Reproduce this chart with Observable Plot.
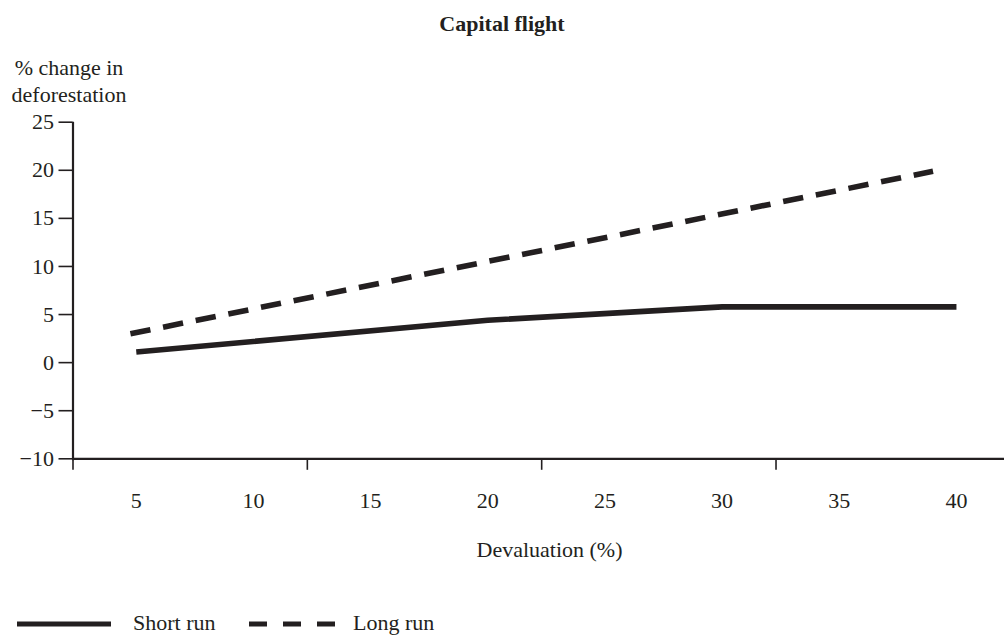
<!DOCTYPE html>
<html><head><meta charset="utf-8">
<script src="https://cdn.jsdelivr.net/npm/d3@7"></script>
<script src="https://cdn.jsdelivr.net/npm/@observablehq/plot@0.6"></script>
<style>
html,body{margin:0;padding:0;background:#fff;overflow:hidden;}
body{width:1004px;height:636px;font-family:"Liberation Serif","Times New Roman",serif;color:#231f20;}
#title{height:44px;line-height:44px;text-align:center;font-weight:bold;font-size:22px;padding-top:2px;box-sizing:border-box;overflow:visible;}
svg{display:block;}
</style></head><body>
<div id="title">Capital flight</div>
<div id="chart"></div>
<div id="legend"></div>
<script>
// ---- data ----
const xLabels = [5, 10, 15, 20, 25, 30, 35, 40];
const xTickMarks = [2.3, 12.3, 22.3, 32.3];
const yTicks = [-10, -5, 0, 5, 10, 15, 20, 25];
const shortRunX = [5, 20, 30, 40];
const shortRunY = [1.1, 4.4, 5.8, 5.8];
const longRunX = [4.75, 39];
const longRunY = [3.0, 19.9];
const seriesNames = ["Short run", "Long run"];

const INK = "#231f20";
const shortRun = shortRunX.map((x, i) => ({x, y: shortRunY[i]}));
const longRun = longRunX.map((x, i) => ({x, y: longRunY[i]}));

const W = 1004, H = 550, ML = 72.5, MR = 0, MT = 77.7, MB = 135.7;

const chart = Plot.plot({
  width: W, height: H,
  marginLeft: ML, marginRight: MR, marginTop: MT, marginBottom: MB,
  style: {fontFamily: '"Liberation Serif","Times New Roman",serif', fontSize: "22px", color: INK, background: "white", overflow: "visible"},
  x: {type: "linear", domain: [2.3, 42.05], label: null},
  y: {type: "linear", domain: [-10, 25], label: null},
  marks: [
    Plot.axisY({ticks: yTicks, tickSize: 14, tickPadding: 5, strokeWidth: 1.6, label: null}),
    Plot.axisX({ticks: xTickMarks, tickSize: 11.5, tickFormat: () => "", strokeWidth: 1.6, label: null}),
    Plot.axisX({ticks: xLabels, tickSize: 0, tickPadding: 34, label: null}),
    Plot.ruleY([-10], {stroke: INK, strokeWidth: 2.2}),
    Plot.ruleX([2.3], {y1: 25, y2: -10.2, stroke: INK, strokeWidth: 2.2}),
    Plot.line(shortRun, {x: "x", y: "y", stroke: INK, strokeWidth: 5.6, strokeLinecap: "butt", strokeLinejoin: "miter"}),
    Plot.line(longRun, {x: "x", y: "y", stroke: INK, strokeWidth: 5.6, strokeLinecap: "butt", strokeDasharray: "20.4,12.9"}),
    Plot.text(["% change in\ndeforestation"], {frameAnchor: "top-left", textAnchor: "middle", lineAnchor: "bottom", lineHeight: 27 / 22, dx: -4, dy: 57 - MT, fill: INK}),
    Plot.text(["Devaluation (%)"], {frameAnchor: "bottom", textAnchor: "middle", lineAnchor: "bottom", dx: 10.75, dy: 97.7, fill: INK})
  ]
});
document.getElementById("chart").appendChild(chart);

// ---- legend below the chart ----
const leg = d3.select("#legend").append("svg").attr("width", W).attr("height", 42)
  .style("font-family", '"Liberation Serif","Times New Roman",serif').style("font-size", "22px");
leg.append("line").attr("x1", 17).attr("x2", 111).attr("y1", 30).attr("y2", 30)
  .attr("stroke", INK).attr("stroke-width", 5);
leg.append("text").attr("x", 133).attr("y", 36).attr("fill", INK).text(seriesNames[0]);
leg.append("line").attr("x1", 249).attr("x2", 335).attr("y1", 30).attr("y2", 30)
  .attr("stroke", INK).attr("stroke-width", 5).attr("stroke-dasharray", "18,16");
leg.append("text").attr("x", 353).attr("y", 36).attr("fill", INK).text(seriesNames[1]);
</script>
</body></html>
